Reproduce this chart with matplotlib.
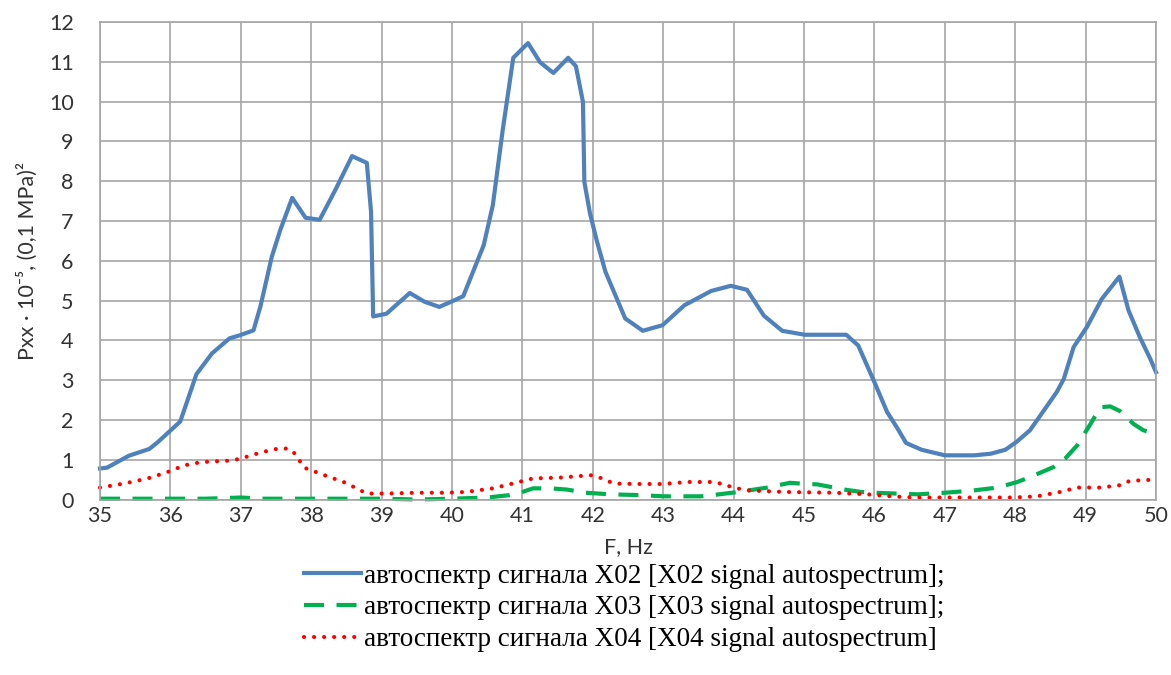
import matplotlib
matplotlib.use("Agg")
import matplotlib.pyplot as plt

# frequency / autospectrum values
x02_f = [35.0, 35.1, 35.41, 35.7, 35.82, 36.14, 36.37, 36.59, 36.84, 36.99, 37.18, 37.28,
         37.44, 37.56, 37.73, 37.92, 38.12, 38.34, 38.58, 38.79, 38.85, 38.88, 39.07, 39.4,
         39.61, 39.82, 40.0, 40.16, 40.45, 40.58, 40.72, 40.87, 41.08, 41.25, 41.44, 41.65,
         41.76, 41.86, 41.88, 41.96, 42.06, 42.18, 42.46, 42.71, 42.99, 43.3, 43.68, 43.96,
         44.19, 44.43, 44.69, 45.01, 45.6, 45.77, 46.0, 46.18, 46.33, 46.45, 46.67, 47.0,
         47.42, 47.65, 47.86, 48.02, 48.21, 48.59, 48.69, 48.83, 49.02, 49.23, 49.48, 49.61,
         49.77, 49.92, 50.0]
x02_p = [0.78, 0.8, 1.1, 1.27, 1.44, 1.96, 3.15, 3.67, 4.05, 4.13, 4.25, 4.86,
         6.1, 6.77, 7.58, 7.08, 7.03, 7.77, 8.63, 8.46, 7.23, 4.6, 4.67, 5.19,
         4.97, 4.84, 4.98, 5.11, 6.39, 7.4, 9.28, 11.1, 11.47, 10.99, 10.72, 11.1,
         10.89, 9.99, 7.98, 7.19, 6.48, 5.72, 4.55, 4.24, 4.38, 4.88, 5.24, 5.37,
         5.27, 4.62, 4.24, 4.14, 4.14, 3.87, 2.95, 2.2, 1.78, 1.42, 1.25, 1.11,
         1.11, 1.15, 1.25, 1.45, 1.74, 2.7, 3.03, 3.83, 4.34, 5.04, 5.6, 4.75,
         4.08, 3.53, 3.2]

x03_f = [35.0, 35.5, 36.0, 36.5, 37.0, 37.3, 38.0, 38.5, 39.0, 39.5, 40.0, 40.5, 40.82,
         41.0, 41.15, 41.4, 41.63, 41.9, 42.25, 42.68, 43.0, 43.53, 43.7, 44.07, 44.48,
         44.8, 44.95, 45.19, 45.57, 45.81, 46.0, 46.29, 46.62, 47.0, 47.37, 47.75, 48.03,
         48.22, 48.55, 48.71, 48.88, 49.07, 49.21, 49.35, 49.49, 49.68, 49.82, 50.0]
x03_p = [0.02, 0.02, 0.02, 0.02, 0.05, 0.02, 0.02, 0.02, 0.02, 0.0, 0.02, 0.05, 0.11,
         0.19, 0.28, 0.28, 0.25, 0.17, 0.13, 0.11, 0.08, 0.08, 0.11, 0.19, 0.3,
         0.42, 0.4, 0.38, 0.25, 0.19, 0.17, 0.15, 0.13, 0.17, 0.22, 0.3, 0.44,
         0.57, 0.82, 1.03, 1.36, 1.9, 2.32, 2.34, 2.22, 1.9, 1.74, 1.65]

x04_f = [35.0, 35.34, 35.68, 35.96, 36.2, 36.44, 36.87, 37.0, 37.3, 37.53, 37.68, 37.77,
         37.9, 38.22, 38.46, 38.6, 38.79, 39.07, 39.5, 39.92, 40.2, 40.58, 40.86, 41.15,
         41.53, 41.82, 41.99, 42.1, 42.3, 42.68, 43.0, 43.34, 43.68, 43.82, 44.0, 44.19,
         44.71, 45.43, 45.9, 46.24, 46.57, 47.0, 47.98, 48.31, 48.64, 48.88, 49.21, 49.49,
         49.63, 50.0]
x04_p = [0.3, 0.4, 0.53, 0.69, 0.86, 0.94, 0.98, 1.03, 1.19, 1.28, 1.28, 1.15,
         0.8, 0.59, 0.44, 0.32, 0.15, 0.15, 0.17, 0.17, 0.19, 0.28, 0.4, 0.53,
         0.55, 0.59, 0.61, 0.55, 0.4, 0.39, 0.39, 0.44, 0.44, 0.4, 0.3, 0.23,
         0.19, 0.17, 0.13, 0.08, 0.05, 0.05, 0.05, 0.08, 0.19, 0.3, 0.3, 0.36,
         0.47, 0.5]

labels = ["автоспектр сигнала X02 [X02 signal autospectrum];",
          "автоспектр сигнала X03 [X03 signal autospectrum];",
          "автоспектр сигнала X04 [X04 signal autospectrum]"]

plt.rcParams["font.family"] = ["Lato", "DejaVu Sans"]

fig = plt.figure(figsize=(11.71, 6.75), dpi=100)
ax = fig.add_axes([0.0854, 0.26, 0.9018, 0.7074])

ax.plot(x02_f, x02_p, color="#4F81BD", lw=3, solid_joinstyle="round", clip_on=False, label=labels[0])
ax.plot(x03_f, x03_p, color="#00B050", lw=3, linestyle=(0, (4.8, 3.0)), clip_on=False, label=labels[1])
ax.plot(x04_f, x04_p, color="#FF0000", lw=3, linestyle=(0, (0.01, 2.4)),
        dash_capstyle="round", clip_on=False, label=labels[2])

ax.set_xlim(35, 50)
ax.set_ylim(0, 12)
ax.set_xticks(range(35, 51))
ax.set_yticks(range(0, 13))
ax.grid(True, color="#a6a6a6", lw=1.2)
ax.set_axisbelow(True)
for s in ax.spines.values():
    s.set_color("#a6a6a6")
    s.set_linewidth(1.2)
ax.tick_params(axis="both", length=0, labelsize=15.5, colors="#333333")
ax.tick_params(axis="y", pad=19)
ax.tick_params(axis="x", pad=5)

ax.set_xlabel("F, Hz", fontsize=15.5, color="#333333", labelpad=8)
ax.set_ylabel("Pxx · 10⁻⁵, (0,1 MPa)²", fontsize=15.5, color="#333333", labelpad=8)

fig.legend(loc="upper center", bbox_to_anchor=(0.533, 0.185), frameon=False,
           prop={"family": "Liberation Serif", "size": 19.5}, handlelength=2.1,
           handletextpad=0.1, labelspacing=0.25, borderpad=0)

fig.savefig("out.png", dpi=100)
